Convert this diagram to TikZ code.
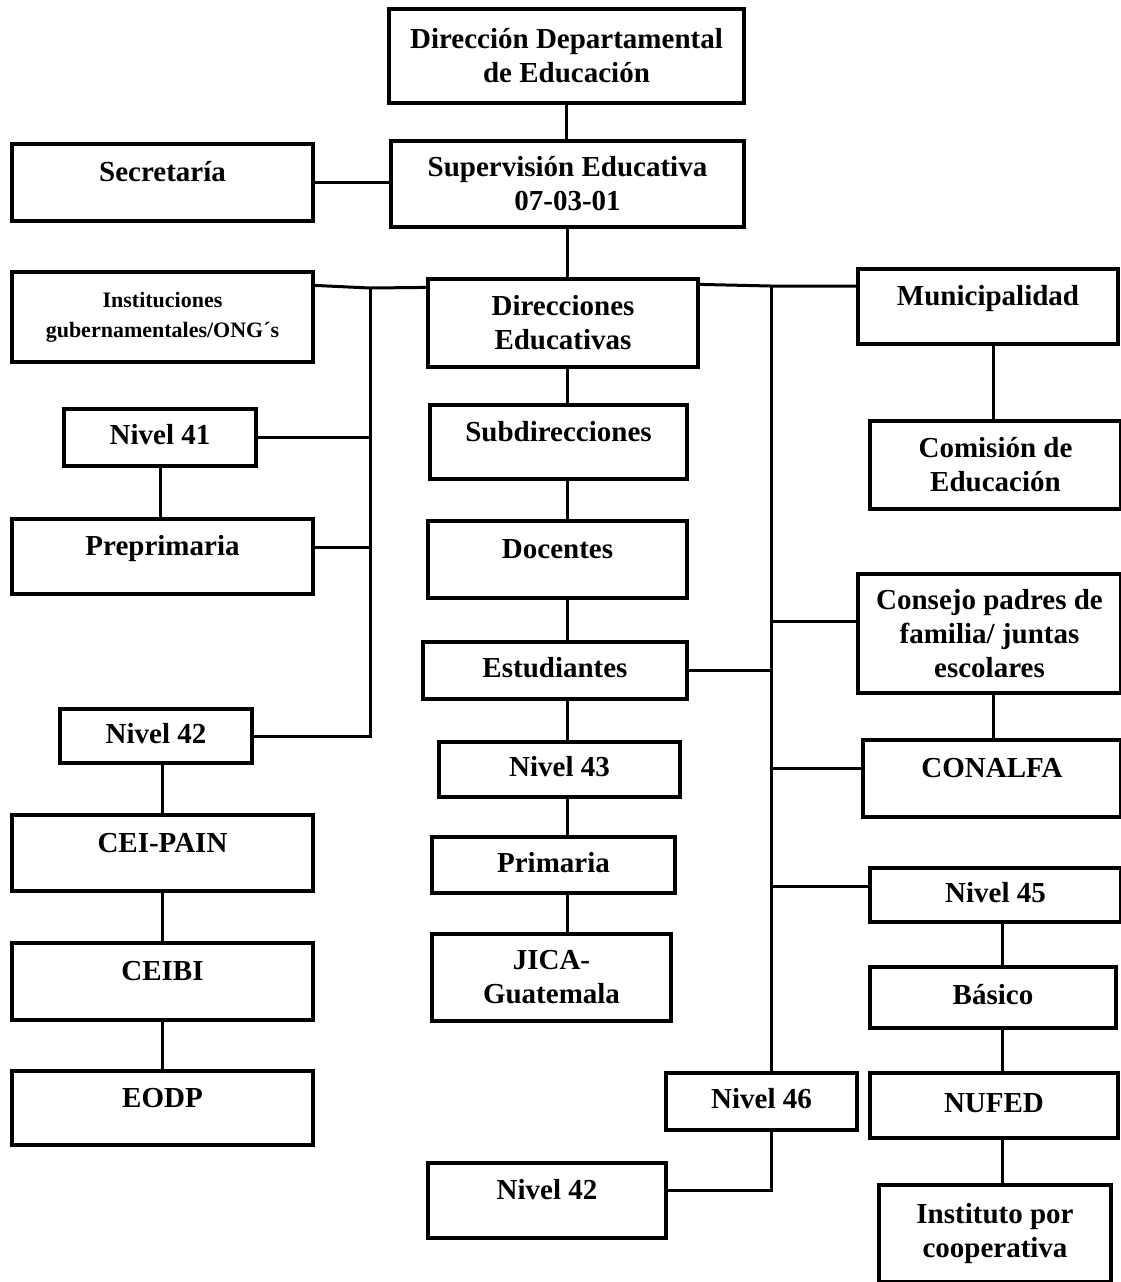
\documentclass[tikz,border=0pt]{standalone}
\usepackage{fontspec}
\setmainfont{Liberation Serif}

\tikzset{
  orgbox/.style={draw, line width=1.6pt, align=center, inner sep=2pt,
    font=\fontsize{14.5}{17}\selectfont\bfseries},
  hightext/.style={text height=10pt, text depth=11pt},
  lowtext/.style={text height=10pt, text depth=3pt},
  link/.style={line width=1.5pt}
}

\begin{document}
\begin{tikzpicture}[x=0.5pt, y=-0.5pt]
\useasboundingbox (0,0) rectangle (1121,1282);
% centre column
\node[orgbox, minimum width=177.5pt, minimum height=47pt] (dirdep) at (566.5,56) {Dirección Departamental\\de Educación};
\node[orgbox, minimum width=176.5pt, minimum height=43pt] (superv) at (567.5,184) {Supervisión Educativa\\07-03-01};
\node[orgbox, minimum width=135pt, minimum height=44pt] (diredu) at (563,323) {Direcciones\\Educativas};
\node[orgbox, hightext, minimum width=128.5pt, minimum height=37pt] (subdir) at (558.5,442) {Subdirecciones};
\node[orgbox, hightext, minimum width=129.5pt, minimum height=38.5pt] (docen) at (557.5,559.5) {Docentes};
\node[orgbox, lowtext, minimum width=132pt, minimum height=28.5pt] (estud) at (555,670.5) {Estudiantes};
\node[orgbox, lowtext, minimum width=120.5pt, minimum height=27.5pt] (niv43) at (559.5,769.5) {Nivel 43};
\node[orgbox, lowtext, minimum width=121.5pt, minimum height=28pt] (primaria) at (553.5,865) {Primaria};
\node[orgbox, minimum width=119.5pt, minimum height=43.5pt] (jica) at (551.5,977.5) {JICA-\\Guatemala};
\node[orgbox, lowtext, minimum width=95.5pt, minimum height=28.5pt] (niv46) at (761.5,1101.5) {Nivel 46};
\node[orgbox, hightext, minimum width=119pt, minimum height=37.5pt] (niv42b) at (547,1200.5) {Nivel 42};
% left column
\node[orgbox, hightext, minimum width=150.5pt, minimum height=38.5pt] (secre) at (162.5,182.5) {Secretaría};
\node[orgbox, minimum width=150.5pt, minimum height=45pt, font=\fontsize{11}{15}\selectfont\bfseries] (instit) at (162.5,317) {Instituciones\\gubernamentales/ONG´s};
\node[orgbox, lowtext, minimum width=96pt, minimum height=28.5pt] (niv41) at (160,437.5) {Nivel 41};
\node[orgbox, hightext, minimum width=150.5pt, minimum height=37.5pt] (prepri) at (162.5,556.5) {Preprimaria};
\node[orgbox, lowtext, minimum width=96pt, minimum height=27pt] (niv42a) at (156,736) {Nivel 42};
\node[orgbox, hightext, minimum width=150.5pt, minimum height=38pt] (ceipain) at (162.5,853) {CEI-PAIN};
\node[orgbox, hightext, minimum width=150.5pt, minimum height=38.5pt] (ceibi) at (162.5,981.5) {CEIBI};
\node[orgbox, hightext, minimum width=150.5pt, minimum height=37pt] (eodp) at (162.5,1108) {EODP};
% right column
\node[orgbox, hightext, minimum width=130pt, minimum height=37.5pt] (munic) at (988,306.5) {Municipalidad};
\node[orgbox, minimum width=125.5pt, minimum height=44pt] (comis) at (995.5,465) {Comisión de\\Educación};
\node[orgbox, minimum width=131.5pt, minimum height=59.5pt] (consejo) at (989.5,633.5) {Consejo padres de\\familia/ juntas\\escolares};
\node[orgbox, hightext, minimum width=129pt, minimum height=38.5pt] (conalfa) at (992,778.5) {CONALFA};
\node[orgbox, lowtext, minimum width=125.5pt, minimum height=27pt] (niv45) at (995.5,895) {Nivel 45};
\node[orgbox, lowtext, minimum width=123pt, minimum height=30.5pt] (basico) at (993,997.5) {Básico};
\node[orgbox, lowtext, minimum width=124pt, minimum height=32.5pt] (nufed) at (994,1105.5) {NUFED};
\node[orgbox, minimum width=116pt, minimum height=48.5pt] (instituto) at (995,1233.5) {Instituto por\\cooperativa};

\coordinate (mid) at (567,0);
\coordinate (lbus) at (370,288);
\coordinate (rbus) at (771,286);
\coordinate (rcol) at (1002,0);

% top of the chart
\draw[link] (dirdep.south) -- (dirdep.south |- superv.north);
\draw[link] (secre.east) -- (secre.east -| superv.west);
\draw[link] (superv.south) -- (superv.south |- diredu.north);
% centre chain
\draw[link] (diredu.south -| mid) -- (subdir.north -| mid);
\draw[link] (subdir.south -| mid) -- (docen.north -| mid);
\draw[link] (docen.south -| mid) -- (estud.north -| mid);
\draw[link] (estud.south -| mid) -- (niv43.north -| mid);
\draw[link] (niv43.south -| mid) -- (primaria.north -| mid);
\draw[link] (primaria.south -| mid) -- (jica.north -| mid);
% left bus
\draw[link] ([yshift=-7.5pt]instit.north east) -- (lbus) -- ([yshift=-5pt]diredu.north west);
\draw[link] (lbus) |- (niv42a.east);
\draw[link] (niv41.east) -- (niv41.east -| lbus);
\draw[link] ([yshift=4.5pt]prepri.east) -- ([yshift=4.5pt]prepri.east -| lbus);
\draw[link] (niv41.south) -- (niv41.south |- prepri.north);
\draw[link] (ceipain.north |- niv42a.south) -- (ceipain.north);
\draw[link] (ceipain.south) -- (ceibi.north);
\draw[link] (ceibi.south) -- (eodp.north);
% right bus
\draw[link] ([yshift=-3.5pt]diredu.north east) -- (rbus) -- (rbus -| munic.west);
\draw[link] (rbus) -- (rbus |- niv46.north);
\draw[link] ([yshift=6pt]consejo.west) -- ([yshift=6pt]consejo.west -| rbus);
\draw[link] (estud.east) -- (estud.east -| rbus);
\draw[link] ([yshift=5pt]conalfa.west) -- ([yshift=5pt]conalfa.west -| rbus);
\draw[link] ([yshift=4.5pt]niv45.west) -- ([yshift=4.5pt]niv45.west -| rbus);
\draw[link] (niv46.south -| rbus) |- ([yshift=5pt]niv42b.east);
\draw[link] ([xshift=2.5pt]munic.south) -- ([xshift=2.5pt]munic.south |- comis.north);
\draw[link] ([xshift=2pt]consejo.south) -- ([xshift=2pt]consejo.south |- conalfa.north);
\draw[link] (niv45.south -| rcol) -- (basico.north -| rcol);
\draw[link] (basico.south -| rcol) -- (nufed.north -| rcol);
\draw[link] (nufed.south -| rcol) -- (instituto.north -| rcol);
\end{tikzpicture}
\end{document}
